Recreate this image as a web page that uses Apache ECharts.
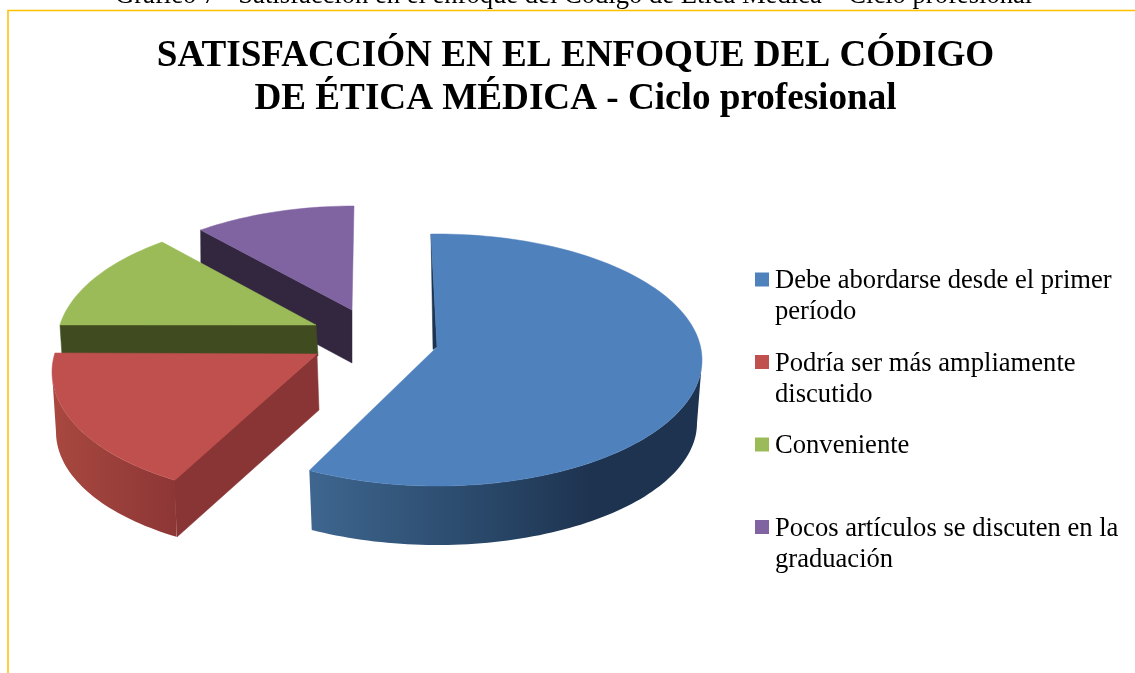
<!DOCTYPE html>
<html>
<head>
<meta charset="utf-8">
<style>html,body{margin:0;padding:0;background:#fff}#c{width:1135px;height:673px}</style>
<script src="https://cdn.jsdelivr.net/npm/echarts@6/dist/echarts.min.js"></script>
</head>
<body>
<div id="c"></div>
<script>
const captionText = 'Gráfico 7 - Satisfacción en el enfoque del Código de Ética Médica – Ciclo profesional';
const titleText = 'SATISFACCIÓN EN EL ENFOQUE DEL CÓDIGO\nDE ÉTICA MÉDICA - Ciclo profesional';
const categories = [
  'Debe abordarse desde el primer\nperíodo',
  'Podría ser más ampliamente\ndiscutido',
  'Conveniente\n ',
  'Pocos artículos se discuten en la\ngraduación'
];
const values = [58, 19, 13, 10];

const colors = ['#4f81bd', '#c0504d', '#9bbb59', '#8064a2'];

// Drawing geometry of each exploded wedge (perspective look of the 3D pie)
const wedgeViews = [
  { z: 4, apex: [437, 347], top: [437, 360, 265, 126], bottom: [437, 423, 260, 122],
    padStart: -1.3, padEnd: 0, wallFrom: 90, wallTo: 208.8,
    wallFill: [310, 700, [[0, '#3e668f'], [0.5, '#274464'], [0.72, '#1e3350'], [1, '#1e3350']]],
    cuts: [{ pts: 'sliver', fill: '#1e3350' }] },
  { z: 3, apex: [317, 354], top: [304, 372, 252, 126], bottom: [303, 432, 247, 122],
    padStart: 2, padEnd: 1.5, wallFrom: 210.8, wallTo: 270,
    wallFill: [55, 178, [[0, '#a8483f'], [1, '#8c3636']]],
    cuts: [{ pts: [[317, 354], [174, 479], [177, 537], [319, 410]], fill: '#8a3535' }] },
  { z: 2, apex: [316, 325], top: [312, 344, 255, 126], bottom: null,
    padStart: 1.5, padEnd: 0,
    cuts: [{ pts: [[60, 325], [316, 325], [318, 356], [62, 356]], fill: '#404b20' }] },
  { z: 1, apex: [352, 310], top: [354, 332, 261, 126], bottom: null,
    padStart: 0, padEnd: 0,
    cuts: [{ pts: [[200.6, 230], [352, 310], [352, 363], [201, 282]], fill: '#32273f' }] }
];

const total = values.reduce((a, b) => a + b, 0);
const sweeps = [];
values.reduce((acc, v) => {
  sweeps.push([acc, acc + v / total * 360]);
  return acc + v / total * 360;
}, 0);

function ellipsePoint(e, deg) {
  const t = deg * Math.PI / 180;
  return [e[0] + e[2] * Math.sin(t), e[1] - e[3] * Math.cos(t)];
}
function arc(e, from, to) {
  const pts = [];
  const n = Math.max(2, Math.ceil(Math.abs(to - from) / 1.5));
  for (let i = 0; i <= n; i++) pts.push(ellipsePoint(e, from + (to - from) * i / n));
  return pts;
}

function makeRender(idx) {
  return function () {
    const v = wedgeViews[idx];
    const a0 = sweeps[idx][0] + v.padStart;
    const a1 = sweeps[idx][1] + v.padEnd;
    const children = [];
    (v.cuts || []).forEach(c => {
      const pts = c.pts === 'sliver'
        ? [ellipsePoint(v.top, a0), v.apex, [433, 349.5]]
        : c.pts;
      children.push({ type: 'polygon', shape: { points: pts },
        style: { fill: c.fill, stroke: c.fill, lineWidth: 0.5 } });
    });
    if (v.bottom) {
      const pts = arc(v.top, v.wallFrom, v.wallTo).concat(arc(v.bottom, v.wallTo, v.wallFrom));
      const f = v.wallFill;
      const fill = new echarts.graphic.LinearGradient(f[0], 0, f[1], 0,
        f[2].map(s => ({ offset: s[0], color: s[1] })), true);
      children.push({ type: 'polygon', shape: { points: pts }, style: { fill: fill } });
    }
    const face = [v.apex].concat(arc(v.top, a0, a1));
    children.push({ type: 'polygon', shape: { points: face },
      style: { fill: colors[idx], stroke: colors[idx], lineWidth: 0.5 } });
    return { type: 'group', children: children };
  };
}

const chart = echarts.init(document.getElementById('c'), null, { renderer: 'canvas' });
chart.setOption({
  animation: false,
  backgroundColor: '#ffffff',
  title: [
    { text: captionText, left: 115, top: -17, padding: 0,
      textStyle: { fontFamily: 'Liberation Serif', fontWeight: 'normal', fontSize: 26.6, color: '#000' } },
    { text: titleText, left: 575.5, top: 35, padding: 0, textAlign: 'center',
      textStyle: { fontFamily: 'Liberation Serif', fontWeight: 'bold', fontSize: 37.15, lineHeight: 43, color: '#000' } }
  ],
  legend: {
    orient: 'vertical', left: 755, top: 266, padding: 0,
    data: categories,
    icon: 'path://M0 0H14V14H0Z M0 49H0.01V49Z',
    itemWidth: 14, itemHeight: 49, itemGap: 20.5,
    selectedMode: false,
    textStyle: { fontFamily: 'Liberation Serif', fontSize: 26.6, lineHeight: 31, color: '#000', padding: [0, 0, 0, 1] }
  },
  graphic: [{
    type: 'polyline', silent: true, z: 10,
    shape: { points: [[8, 673], [8, 10.5], [1135, 10.5]] },
    style: { stroke: '#ffc000', lineWidth: 1.5, fill: null }
  }],
  series: categories.map((name, i) => ({
    type: 'custom', name: name, z: wedgeViews[i].z, coordinateSystem: 'none',
    silent: true,
    itemStyle: { color: colors[i] },
    data: [[values[i]]],
    renderItem: makeRender(i)
  }))
});
</script>
</body>
</html>
